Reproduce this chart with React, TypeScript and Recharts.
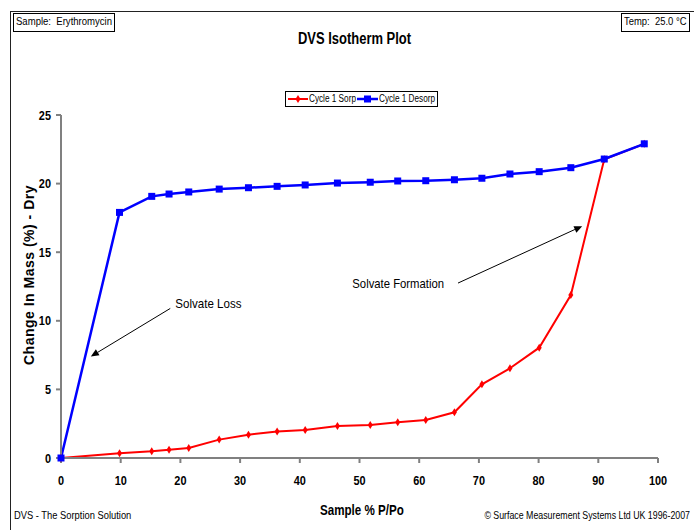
import React from "react"
import { Line, LineChart, ReferenceLine, XAxis, YAxis } from "recharts"

const rh = [0, 9.8, 15.2, 18.1, 21.4, 26.5, 31.4, 36.2, 40.9, 46.3, 51.8, 56.4, 61.1, 65.9, 70.5, 75.2, 80.1, 85.4, 91.0, 97.7]
const sorp = [0, 0.34, 0.49, 0.61, 0.73, 1.34, 1.7, 1.94, 2.04, 2.33, 2.4, 2.6, 2.77, 3.33, 5.37, 6.54, 8.04, 11.88, 21.77, 22.9]
const desorp = [0, 17.9, 19.07, 19.24, 19.39, 19.6, 19.7, 19.8, 19.9, 20.04, 20.1, 20.19, 20.21, 20.28, 20.39, 20.7, 20.87, 21.16, 21.79, 22.9]
const xTicks = [0, 10, 20, 30, 40, 50, 60, 70, 80, 90, 100]
const yTicks = [0, 5, 10, 15, 20, 25]

const data = rh.map((x, i) => ({ rh: x, sorp: sorp[i], desorp: desorp[i] }))

const sans = "'Liberation Sans', Arial, sans-serif"

// the original uses a condensed face; squeeze Liberation Sans horizontally
function Narrow({ left, right, top, size, bold, scale, children }: any) {
  const style: React.CSSProperties = {
    position: "absolute",
    top,
    whiteSpace: "nowrap",
    fontFamily: sans,
    fontSize: size,
    fontWeight: bold ? "bold" : "normal",
    transform: `scaleX(${scale})`,
    transformOrigin: right != null ? "right top" : "left top",
  }
  if (right != null) style.right = right
  else style.left = left
  return <div style={style}>{children}</div>
}

function Diamond(props: any) {
  const { cx, cy } = props
  if (cx == null || cy == null) return null
  return <path d={`M${cx},${cy - 4}L${cx + 2.5},${cy}L${cx},${cy + 4}L${cx - 2.5},${cy}Z`} fill="#ff0000" />
}

function Square(props: any) {
  const { cx, cy } = props
  if (cx == null || cy == null) return null
  return <rect x={cx - 3.5} y={cy - 3.5} width={7} height={7} fill="#0000ff" />
}

function XTick(props: any) {
  const { x, y, payload } = props
  return (
    <text transform={`translate(${x},${y}) scale(0.84,1)`} textAnchor="middle" dy="0.71em" fontFamily={sans} fontWeight="bold" fontSize={13} fill="#000">
      {payload.value}
    </text>
  )
}

function YTick(props: any) {
  const { x, y, payload } = props
  return (
    <text transform={`translate(${x},${y}) scale(0.84,1)`} textAnchor="end" dy="0.36em" fontFamily={sans} fontWeight="bold" fontSize={13} fill="#000">
      {payload.value}
    </text>
  )
}

// arrow drawn from the label side toward the curve
function arrowShape(label: string, anchor: "start" | "end", dx: number, dy: number, sx: number) {
  return (p: any) => {
    const { x1, y1, x2, y2 } = p
    if (x1 == null) return null
    const ang = Math.atan2(y2 - y1, x2 - x1)
    const len = 8
    const w = 3.5
    const bx = x2 - len * Math.cos(ang)
    const by = y2 - len * Math.sin(ang)
    const px = -Math.sin(ang) * w
    const py = Math.cos(ang) * w
    return (
      <g>
        <line x1={x1} y1={y1} x2={bx} y2={by} stroke="#000" strokeWidth={1} />
        <path d={`M${x2},${y2}L${bx + px},${by + py}L${bx - px},${by - py}Z`} fill="#000" />
        <text transform={`translate(${x1 + dx},${y1 + dy}) scale(${sx},1)`} textAnchor={anchor} fontFamily={sans} fontSize={13} fill="#000">
          {label}
        </text>
      </g>
    )
  }
}

export default function App() {
  return (
    <div style={{ position: "absolute", left: 0, top: 0, width: 694, height: 530, background: "#fff", overflow: "hidden" }}>
      <div style={{ position: "absolute", left: 10, top: 11, width: 684, height: 0, borderTop: "1.5px solid #222" }} />
      <div style={{ position: "absolute", left: 10, top: 11, width: 0, height: 519, borderLeft: "1.5px solid #222" }} />
      <div style={{ position: "absolute", left: 13, top: 13, width: 102, height: 19, border: "1px solid #000", boxSizing: "border-box" }} />
      <Narrow left={16} top={15} size={11.5} scale={0.83}>Sample:&nbsp; Erythromycin</Narrow>
      <div style={{ position: "absolute", left: 621, top: 13, width: 69, height: 19, border: "1px solid #000", boxSizing: "border-box" }} />
      <Narrow left={624} top={15} size={11.5} scale={0.82}>Temp:&nbsp; 25.0 °C</Narrow>
      <Narrow left={298} top={30} size={16} bold scale={0.81}>DVS Isotherm Plot</Narrow>

      <div style={{ position: "absolute", left: 285, top: 91, width: 153, height: 16, border: "1px solid #000", boxSizing: "border-box" }} />
      <svg style={{ position: "absolute", left: 288, top: 91 }} width={20} height={16}>
        <line x1={0} y1={8} x2={20} y2={8} stroke="#ff0000" strokeWidth={2} />
        <path d="M10,4L12.5,8L10,12L7.5,8Z" fill="#ff0000" />
      </svg>
      <Narrow left={309} top={93} size={10} scale={0.82}>Cycle 1 Sorp</Narrow>
      <svg style={{ position: "absolute", left: 357, top: 91 }} width={21} height={16}>
        <line x1={0} y1={8} x2={21} y2={8} stroke="#0000ff" strokeWidth={2.5} />
        <rect x={7} y={4.5} width={7} height={7} fill="#0000ff" />
      </svg>
      <Narrow left={379} top={93} size={10} scale={0.82}>Cycle 1 Desorp</Narrow>

      <div style={{ position: "absolute", left: 29, top: 275, width: 0, height: 0 }}>
        <div style={{ position: "absolute", left: 0, top: 0, transform: "translate(-50%, -50%) rotate(-90deg)", whiteSpace: "nowrap", fontFamily: sans, fontWeight: "bold", fontSize: 14, letterSpacing: 0.5 }}>
          Change In Mass (%) - Dry
        </div>
      </div>
      <Narrow left={320} top={502} size={14.5} bold scale={0.8}>Sample % P/Po</Narrow>
      <Narrow left={14} top={509} size={11} scale={0.85}>DVS - The Sorption Solution</Narrow>
      <Narrow right={4} top={509} size={11} scale={0.8}>© Surface Measurement Systems Ltd UK 1996-2007</Narrow>

      <div style={{ position: "absolute", left: 0, top: 0 }}>
        <LineChart width={694} height={530} data={data} margin={{ top: 115, right: 36, bottom: 42, left: 21 }}>
          <XAxis
            dataKey="rh"
            type="number"
            domain={[0, 100]}
            ticks={xTicks}
            height={30}
            stroke="#808080"
            strokeWidth={2}
            tickSize={5}
            tickMargin={13}
            tick={<XTick />}
          />
          <YAxis
            type="number"
            domain={[0, 25]}
            ticks={yTicks}
            width={40}
            stroke="#808080"
            strokeWidth={2}
            tickSize={5}
            tickMargin={5}
            tick={<YTick />}
          />
          <ReferenceLine segment={[{ x: 18.3, y: 10.9 }, { x: 5.0, y: 7.4 }]} shape={arrowShape("Solvate Loss", "start", 5, 0, 0.89)} />
          <ReferenceLine segment={[{ x: 66.5, y: 12.75 }, { x: 87.3, y: 16.9 }]} shape={arrowShape("Solvate Formation", "end", -14, 5, 0.87)} />
          <Line dataKey="sorp" stroke="#ff0000" strokeWidth={2} dot={<Diamond />} activeDot={false} isAnimationActive={false} />
          <Line dataKey="desorp" stroke="#0000ff" strokeWidth={2.5} dot={<Square />} activeDot={false} isAnimationActive={false} />
        </LineChart>
      </div>
    </div>
  )
}
